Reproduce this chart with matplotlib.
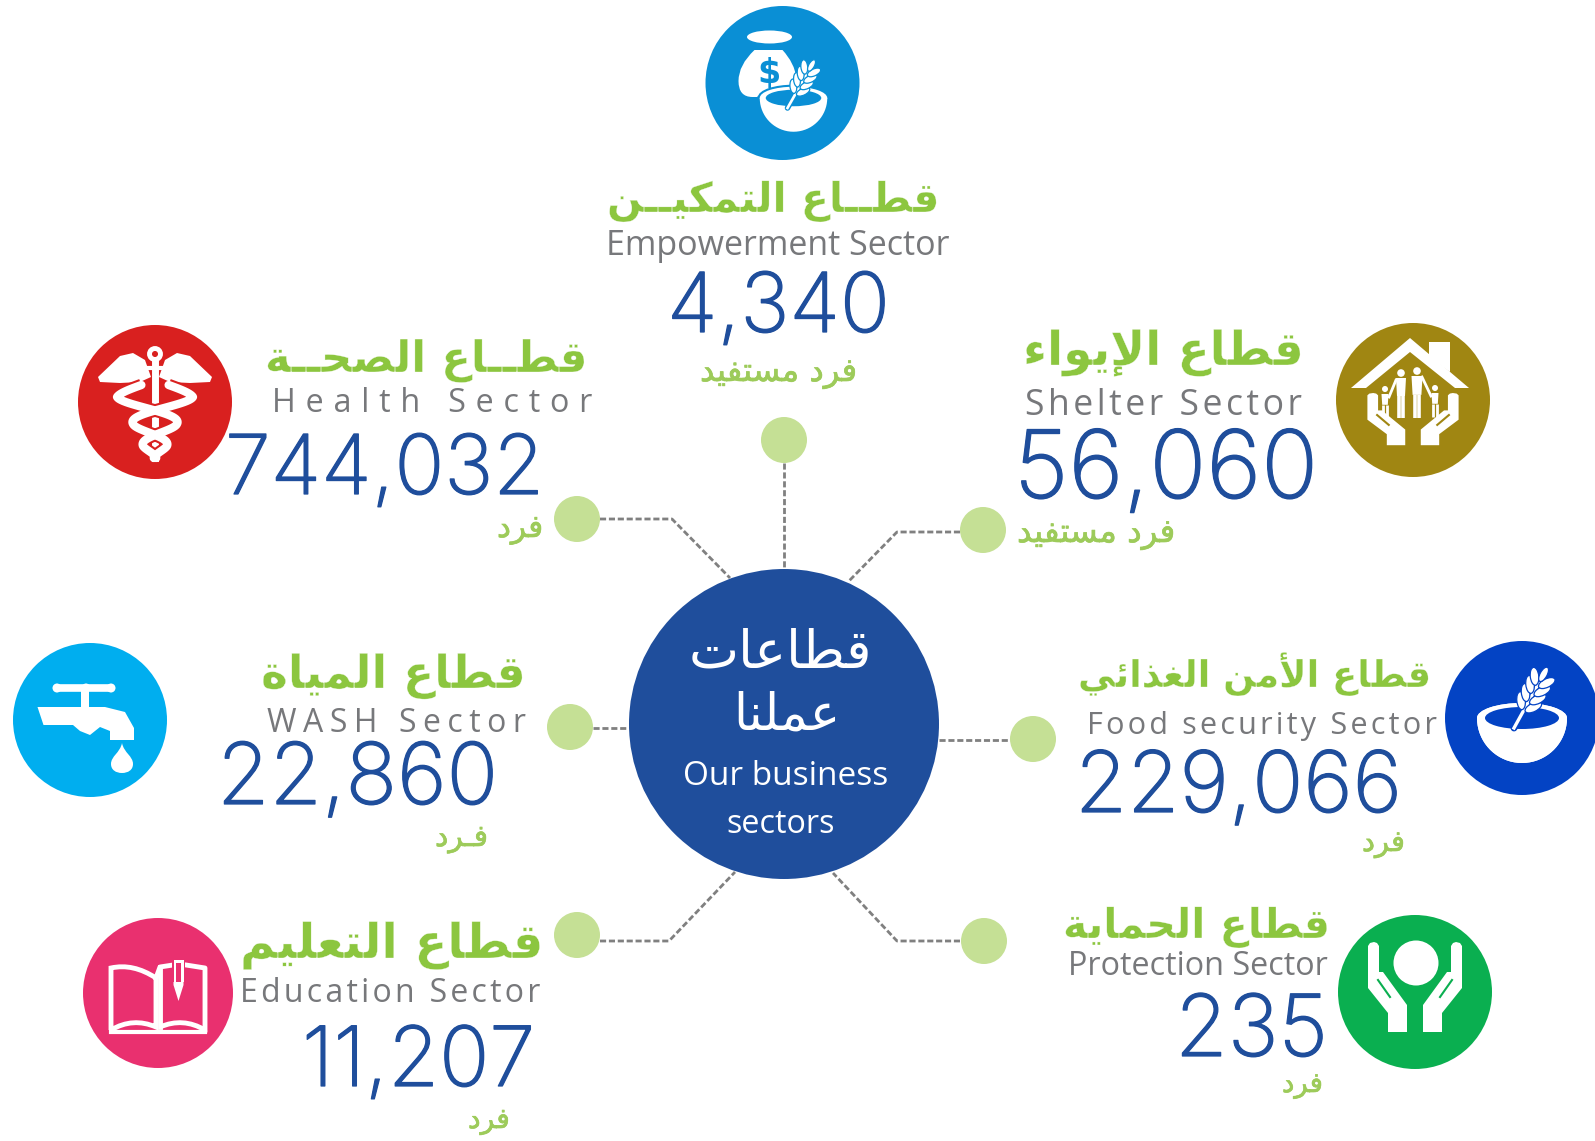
import numpy as np
import matplotlib
matplotlib.use('Agg')
import matplotlib.pyplot as plt
import matplotlib.patheffects as pe
from matplotlib.patches import Circle, Ellipse, Polygon, PathPatch
from matplotlib.path import Path

# donnees du graphique
sector_ar = ['قطــاع التمكيــن', 'قطــاع الصحــة', 'قطاع الإيواء', 'قطاع المياة',
             'قطاع الأمن الغذائي', 'قطاع التعليم', 'قطاع الحماية']
sector_en = ['Empowerment Sector', 'Health Sector', 'Shelter Sector', 'WASH Sector',
             'Food security Sector', 'Education Sector', 'Protection Sector']
beneficiaries = [4340, 744032, 56060, 22860, 229066, 11207, 235]
unit_ar = ['فرد مستفيد', 'فرد', 'فرد مستفيد', 'فـرد', 'فرد', 'فرد', 'فرد']
center_ar = ['قطاعات', 'عملنا']
center_en = ['Our business', 'sectors']

# couleurs
icon_colors = ['#0A8FD5', '#D9201F', '#A08612', '#00AEEF', '#0343C4', '#E9306F', '#0AAF50']
NAVY = '#1F4E9C'
GREEN = '#8CC63F'
GREEN_SUB = '#9DCB5A'
DOT = '#C5E095'
GREY = '#77787B'
LINE = '#808080'

# mise en page : x0, x1, ligne de base
title_pos = [(607, 940, 212), (265, 589, 372), (1023, 1304, 365), (261, 526, 688),
             (1078, 1431, 687), (240, 543, 958), (1063, 1330, 938)]
en_pos = [(606, 950, 255), (272, 592, 412), (1025, 1302, 415), (267, 524, 732),
          (1087, 1435, 734), (240, 540, 1002), (1068, 1328, 975)]
en_size = [23.5, 23.5, 24, 22.5, 21.5, 21.5, 21.5]
num_pos = [(667, 890, 332), (225, 544, 494), (1014, 1318, 498), (217, 498, 804),
           (1075, 1402, 812), (302, 535, 1086), (1175, 1328, 1056)]
sub_pos = [(700, 858, 381), (497, 543, 537), (1017, 1176, 542), (435, 488, 846),
           (1362, 1405, 851), (468, 510, 1128), (1282, 1323, 1092)]
icon_pos = [(782.5, 83), (155, 402), (1413, 400), (90, 720), (1522, 718), (158, 993), (1415, 992)]
icon_r = [77, 77, 77, 77, 77, 75, 77]
dot_pos = [(784, 440), (577, 519), (983, 530), (570, 727), (1033, 739), (577, 935), (984, 941)]
links = [[(784, 463), (784, 569)],
         [(600, 519), (672, 519), (730, 578)],
         [(960, 532), (897, 532), (848, 582)],
         [(593, 728), (629, 728)],
         [(939, 740), (1010, 740)],
         [(600, 941), (669, 941), (735, 872)],
         [(960, 941), (897, 941), (833, 873)]]

# formes arabes : isole, final, initial, median a partir du code de base
DUAL = {'ب': 0xFE8F, 'ت': 0xFE95, 'ئ': 0xFE89, 'ح': 0xFEA1, 'س': 0xFEB1, 'ص': 0xFEB9,
        'ط': 0xFEC1, 'ع': 0xFEC9, 'غ': 0xFECD, 'ف': 0xFED1, 'ق': 0xFED5, 'ك': 0xFED9,
        'ل': 0xFEDD, 'م': 0xFEE1, 'ن': 0xFEE5, 'ي': 0xFEF1}
RIGHT = {'أ': 0xFE83, 'إ': 0xFE87, 'ا': 0xFE8D, 'ة': 0xFE93, 'د': 0xFEA9, 'ذ': 0xFEAB,
         'ر': 0xFEAD, 'و': 0xFEED}
LAM_ALEF = {'أ': 0xFEF7, 'إ': 0xFEF9, 'ا': 0xFEFB}
KASHIDA = 'ـ'


def shape(text):
    # matplotlib ne fait ni le bidi ni les ligatures arabes
    out = []
    for word in text.split(' '):
        res = ''
        i = 0
        prev_joins = False
        while i < len(word):
            c = word[i]
            nxt = word[i + 1] if i + 1 < len(word) else ''
            if c == 'ل' and nxt in LAM_ALEF:
                res += chr(LAM_ALEF[nxt] + (1 if prev_joins else 0))
                prev_joins = False
                i += 2
                continue
            next_exists = nxt in DUAL or nxt in RIGHT or nxt == KASHIDA
            if c == KASHIDA:
                res += c
                prev_joins = True
            elif c in DUAL:
                base = DUAL[c]
                if prev_joins and next_exists:
                    res += chr(base + 3)
                elif prev_joins:
                    res += chr(base + 1)
                elif next_exists:
                    res += chr(base + 2)
                else:
                    res += chr(base)
                prev_joins = next_exists
            elif c in RIGHT:
                res += chr(RIGHT[c] + (1 if prev_joins else 0))
                prev_joins = False
            else:
                res += chr(0xFE80) if c == 'ء' else c
                prev_joins = False
            i += 1
        out.append(res[::-1])
    return ' '.join(out[::-1])


fig = plt.figure(figsize=(15.95, 11.41), dpi=100)
ax = fig.add_axes([0, 0, 1, 1])
ax.set_xlim(0, 1595)
ax.set_ylim(1141, 0)
ax.axis('off')
renderer = fig.canvas.get_renderer()


def fit_text(x0, x1, base, s, size=None, stroke=0, erode=0, zorder=5, **kw):
    # place le texte entre x0 et x1 ; avec size on ajoute de l'interlettrage
    t = ax.text(x0, base, s, ha='left', va='baseline', zorder=zorder, **kw)
    t.set_fontsize(size if size else 30)
    target = x1 - x0
    if size:
        best = s
        best_d = 1e9
        for n in range(0, 7):
            cand = ('\u200a' * n).join(s) if n else s
            t.set_text(cand)
            d = abs(t.get_window_extent(renderer).width - target)
            if d < best_d:
                best, best_d = cand, d
        t.set_text(best)
    for _ in range(3):
        w = t.get_window_extent(renderer).width
        t.set_fontsize(t.get_fontsize() * target / w)
    bb = t.get_window_extent(renderer)
    t.set_x(x0 - (bb.x0 - ax.transData.transform((x0, base))[0]))
    if stroke:
        t.set_path_effects([pe.withStroke(linewidth=stroke, foreground=kw['color'])])
    if erode:
        # contour blanc pour amincir la graisse
        t.set_path_effects([pe.Stroke(linewidth=erode, foreground='white')])
    return t


# icones ------------------------------------------------------------------
def poly(points, cx, cy, color='white', sx=1, sy=1, z=3, **kw):
    pts = [(cx + p[0] * sx, cy + p[1] * sy) for p in points]
    ax.add_patch(Polygon(pts, closed=True, facecolor=color, edgecolor='none', zorder=z, **kw))


def curve(cx, cy, moves, **kw):
    # moves : point de depart puis segments (type, points...)
    verts = [(cx + moves[0][0], cy + moves[0][1])]
    codes = [Path.MOVETO]
    for seg in moves[1:]:
        code = {2: Path.LINETO, 3: Path.CURVE3, 4: Path.CURVE4}[len(seg) + 1]
        for p in seg:
            verts.append((cx + p[0], cy + p[1]))
            codes.append(code)
    ax.add_patch(PathPatch(Path(verts, codes), **kw))


def wheat(x0, y0, x1, y1, bg, s=1.0):
    d = np.array([x1 - x0, y1 - y0], dtype=float)
    L = np.hypot(*d)
    d = d / L
    n = np.array([-d[1], d[0]])
    ang = np.degrees(np.arctan2(d[1], d[0]))
    ax.plot([x0, x1 - d[0] * 8], [y0, y1 - d[1] * 8], color=bg, lw=5 * s, zorder=4, solid_capstyle='round')
    ax.plot([x0, x1 - d[0] * 8], [y0, y1 - d[1] * 8], color='white', lw=2.4 * s, zorder=4.1)
    for f in [0.36, 0.5, 0.64, 0.78]:
        c = np.array([x0, y0]) + d * L * f
        for sg in (-1, 1):
            p = c + n * sg * 7 * s + d * 3.5 * s
            ax.add_patch(Ellipse(p, 18 * s, 8.5 * s, angle=ang + sg * 35, facecolor='white',
                                 edgecolor=bg, lw=0.9, zorder=4.2))
    tip = np.array([x1, y1]) - d * 5 * s
    ax.add_patch(Ellipse(tip, 16 * s, 7 * s, angle=ang, facecolor='white', edgecolor=bg, lw=0.9, zorder=4.2))


def bowl(cx, cy, bg, s=1.0, edge=False):
    th = np.radians(np.arange(0, 181, 5))
    xs = cx + 45 * s * np.cos(th)
    ys = cy + 45 * s * np.sin(th)
    ec = bg if edge else 'none'
    ax.add_patch(Polygon(np.column_stack([xs, ys]), facecolor='white', edgecolor=ec, lw=3, zorder=3.1))
    ax.add_patch(Ellipse((cx, cy), 90 * s, 30 * s, facecolor='white', edgecolor=ec, lw=3, zorder=3.1))
    ax.add_patch(Polygon(np.column_stack([xs, ys]), facecolor='white', edgecolor='none', zorder=3.15))
    ax.add_patch(Ellipse((cx, cy), 90 * s, 30 * s, facecolor='white', edgecolor='none', zorder=3.15))
    ax.add_patch(Ellipse((cx, cy), 74 * s, 22 * s, facecolor=bg, edgecolor='none', zorder=3.2))


def icon_empowerment(cx, cy, bg):
    curve(cx, cy, [(-28, -33), [(0, -33)], [(12, -20), (14, -5)], [(14, 14)], [(-30, 14)],
                   [(-44, 14), (-44, -2)], [(-44, -18), (-28, -33)]],
          facecolor='white', edgecolor='none', zorder=3)
    ax.add_patch(Ellipse((cx - 13, cy - 46), 45, 13, facecolor='white', zorder=3))
    ax.text(cx - 14, cy - 9, '$', color=bg, fontsize=24, fontweight='bold', ha='center', va='center', zorder=4)
    bowl(cx + 11, cy + 15, bg, 0.75, edge=True)
    wheat(cx + 5, cy + 25, cx + 31, cy - 21, bg, 0.8)


def icon_health(cx, cy, bg):
    # ailes
    for sg in (-1, 1):
        poly([(4, -25), (10, -42), (22, -49), (35, -46), (57, -25), (55, -20), (35, -19), (15, -20)],
             cx, cy, sx=sg)
    ax.add_patch(Circle((cx, cy - 48), 5.5, facecolor='none', edgecolor='white', lw=3.5, zorder=3))
    ax.plot([cx, cx], [cy - 42, cy + 56], color='white', lw=5, zorder=3)
    ax.plot([cx - 8, cx + 8], [cy - 34, cy - 34], color='white', lw=3, zorder=3)
    # serpents
    yy = np.arange(-17, 57, 1.0)
    amp = np.interp(yy, [-17, -5, 22, 44, 56], [30, 38, 22, 12, 4])
    phase = np.interp(yy, [-17, -5, 22, 44, 56], [0.15, 0.5, 1.5, 2.5, 3.1]) * np.pi
    for sg in (-1, 1):
        xs = cx + sg * amp * np.sin(phase)
        ax.plot(xs, cy + yy, color=bg, lw=9, zorder=3.2, solid_capstyle='butt')
        ax.plot(xs, cy + yy, color='white', lw=6, zorder=3.3, solid_capstyle='round')


HAND = [(-47, -46), (-45, -49), (-41, -50), (-38, -49), (-36, -46), (-36, -20), (-32, -20), (-8, 13),
        (-8, 40), (-27, 40), (-27, 21), (-47, -4)]


def hands(cx, cy, bg, sx=1, sy=1):
    for sg in (-1, 1):
        poly(HAND, cx, cy, sx=sx * -sg, sy=sy)
        ax.plot([cx - sg * 37 * sx, cx - sg * 25 * sx], [cy - 12 * sy, cy + 5 * sy], color=bg, lw=1.5, zorder=3.5)


def person(cx, cy, x, y, h, w, bg):
    ax.add_patch(Circle((cx + x, cy + y), 3.8 if h > 30 else 3, facecolor='white', zorder=3))
    top = y + 5
    mid = top + h * 0.45
    poly([(x - w, top), (x + w, top), (x + w * 0.8, mid), (x - w * 0.8, mid)], cx, cy)
    for sg in (-1, 1):
        ax.plot([cx + x + sg * w * 0.45] * 2, [cy + mid, cy + top + h], color='white', lw=2.6 if h > 30 else 2,
                zorder=3, solid_capstyle='butt')


def icon_shelter(cx, cy, bg):
    poly([(16, -58), (37, -58), (37, -28), (16, -43)], cx, cy)
    poly([(-3, -62), (56, -12), (42, -12), (-3, -48), (-47, -12), (-62, -12)], cx, cy)
    hands(cx, cy + 22, bg, 0.97, 0.58)
    person(cx, cy, -12, -27, 40, 5, bg)
    person(cx, cy, 4, -29, 42, 5.5, bg)
    person(cx, cy, -28, -11, 24, 3.5, bg)
    person(cx, cy, 22, -12, 24, 3.5, bg)
    # bras vers les enfants
    ax.plot([cx - 17, cx - 24], [cy - 20, cy - 3], color='white', lw=2, zorder=3)
    ax.plot([cx + 9, cx + 18], [cy - 23, cy - 4], color='white', lw=2, zorder=3)


def icon_wash(cx, cy, bg):
    ax.plot([cx - 33, cx + 21], [cy - 32, cy - 32], color='white', lw=5.5, zorder=3, solid_capstyle='round')
    for dx in (-33, -4, 21):
        ax.add_patch(Circle((cx + dx, cy - 32), 4.5, facecolor='white', zorder=3))
    poly([(-9, -32), (-1, -32), (-1, -10), (-9, -10)], cx, cy)
    poly([(-52.5, -13), (15, -13), (35, -8), (44, 8), (44, 20), (20, 20), (20, 11), (10, 7), (0, 15),
          (-10, 11), (-17, 5), (-46.5, 5)], cx, cy)
    curve(cx, cy, [(32, 23), [(30, 33), (21, 36), (21, 44)], [(21, 50), (26, 53), (32, 53)],
                   [(38, 53), (43, 50), (43, 44)], [(43, 36), (34, 33), (32, 23)]],
          facecolor='white', edgecolor='none', zorder=3)


def icon_food(cx, cy, bg):
    bowl(cx, cy, bg, 1.0)
    wheat(cx - 8, cy + 10, cx + 24, cy - 48, bg, 1.0)


def icon_education(cx, cy, bg):
    line = dict(facecolor='none', edgecolor='white', lw=3.5, zorder=3)
    curve(cx, cy, [(-47, 37), [(-47, -25)], [(-25, -30), (-2, -15)], [(-2, 34)], [(-25, 24), (-47, 37)]], **line)
    ax.plot([cx - 2, cx + 2, cx + 15], [cy - 15, cy - 26, cy - 28], color='white', lw=3.5, zorder=3)
    ax.plot([cx + 28, cx + 47, cx + 47], [cy - 28, cy - 25, cy + 37], color='white', lw=3.5, zorder=3)
    ax.plot([cx + 2, cx + 2], [cy - 26, cy + 34], color='white', lw=3.5, zorder=3)
    curve(cx, cy, [(2, 34), [(25, 24), (47, 37)]], **line)
    ax.plot([cx - 47, cx + 47], [cy + 39, cy + 39], color='white', lw=3, zorder=3)
    # crayon
    poly([(14, -35), (20, -38), (27, -35), (27, 3), (20.5, 6), (14, 3)], cx, cy, color=bg, z=3.4)
    poly([(15.5, -33), (25.5, -33), (25.5, -11), (23, -11), (23, -30), (18, -30), (18, -11), (15.5, -11)], cx, cy, z=3.5)
    poly([(15.5, -11), (25.5, -11), (25.5, -8), (20.5, 8), (15.5, -8)], cx, cy, z=3.5)


def icon_protection(cx, cy, bg):
    hands(cx, cy, bg)
    ax.add_patch(Circle((cx + 1, cy - 29), 22.5, facecolor='white', zorder=3))


icon_funcs = [icon_empowerment, icon_health, icon_shelter, icon_wash, icon_food, icon_education, icon_protection]

# liens pointilles et pastilles
for pts in links:
    xs = [p[0] for p in pts]
    ys = [p[1] for p in pts]
    ax.plot(xs, ys, color=LINE, lw=2, dashes=(2.2, 1), zorder=1)
for p in dot_pos:
    ax.add_patch(Circle(p, 23, facecolor=DOT, edgecolor='none', zorder=2))

# cercle central
ax.add_patch(Circle((784, 724), 155, facecolor='#1F4E9C', edgecolor='none', zorder=2))
fit_text(689, 872, 667, shape(center_ar[0]), color='white', family='DejaVu Sans')
fit_text(733, 840, 730, shape(center_ar[1]), color='white', family='DejaVu Sans')
fit_text(683, 888, 785, center_en[0], color='white', family='Open Sans')
fit_text(726, 835, 833, center_en[1], color='white', family='Open Sans')

for i in range(len(sector_en)):
    cx, cy = icon_pos[i]
    ax.add_patch(Circle((cx, cy), icon_r[i], facecolor=icon_colors[i], edgecolor='none', zorder=2))
    icon_funcs[i](cx, cy, icon_colors[i])
    x0, x1, b = title_pos[i]
    fit_text(x0, x1, b, shape(sector_ar[i]), erode=0.25, color=GREEN, family='DejaVu Sans', fontweight='bold')
    x0, x1, b = en_pos[i]
    fit_text(x0, x1, b, sector_en[i], size=en_size[i], color=GREY, family=['Open Sans', 'DejaVu Sans'])
    x0, x1, b = num_pos[i]
    fit_text(x0, x1, b, f'{beneficiaries[i]:,}', stroke=0.9, color=NAVY, family='Inter', fontweight='light')
    x0, x1, b = sub_pos[i]
    fit_text(x0, x1, b, shape(unit_ar[i]), stroke=0.5, color=GREEN_SUB, family='DejaVu Sans')

fig.savefig('out.png', dpi=100)
